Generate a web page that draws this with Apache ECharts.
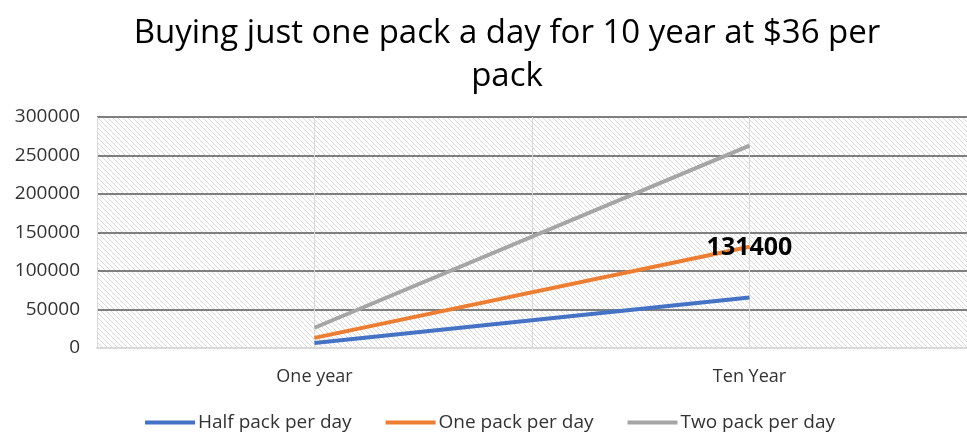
<!DOCTYPE html>
<html><head><meta charset="utf-8">
<script src="https://cdn.jsdelivr.net/npm/echarts@6/dist/echarts.min.js"></script>
<style>html,body{margin:0;padding:0;background:#fff}#c{width:967px;height:434px}</style>
</head><body><div id="c"></div>
<script>
const categories = ['One year', 'Ten Year'];
const halfPack = [6570, 65700];
const onePack = [13140, 131400];
const twoPack = [26280, 262800];
const seriesNames = ['Half pack per day', 'One pack per day', 'Two pack per day'];
const titleText = 'Buying just one pack a day for 10 year at $36 per\npack';

const pc = document.createElement('canvas');
pc.width = 5; pc.height = 5;
const g = pc.getContext('2d');
g.fillStyle = '#fff'; g.fillRect(0,0,5,5);
g.strokeStyle = '#dadada'; g.lineWidth = 1;
g.beginPath();
g.moveTo(-1,-1); g.lineTo(6,6);
g.moveTo(-4,1); g.lineTo(4,9);
g.moveTo(1,-4); g.lineTo(9,4);
g.stroke();

const font = 'Open Sans';
const chart = echarts.init(document.getElementById('c'));
chart.setOption({
  animation: false,
  title: {
    text: titleText, left: 502, textAlign: 'center', top: 7,
    textStyle: {fontFamily: font, fontSize: 33, fontWeight: 'normal', color: '#000', lineHeight: 43}
  },
  legend: {
    bottom: -3, left: 140, itemWidth: 50, itemGap: 34,
    icon: 'rect', itemHeight: 4,
    textStyle: {fontFamily: font, fontSize: 19, color: '#333', padding: [0,0,0,-2]}
  },
  grid: {left: 97, right: -2, top: 117, bottom: 86, show: true, borderWidth: 0,
    backgroundColor: {image: pc, repeat: 'repeat'}},
  xAxis: [{
    type: 'category', data: categories, boundaryGap: true,
    axisLine: {lineStyle: {color: '#d9d9d9', width: 2}},
    axisTick: {show: false},
    axisLabel: {fontFamily: font, fontSize: 18, color: '#333', margin: 20},
    splitLine: {show: true, lineStyle: {color: '#d9d9d9', width: 1}}
  }, {
    type: 'value', min: 0, max: 4, interval: 1, show: true,
    axisLine: {show: false}, axisTick: {show: false}, axisLabel: {show: false},
    splitLine: {show: true, lineStyle: {color: '#d9d9d9', width: 1}}
  }],
  yAxis: {
    type: 'value', min: 0, max: 300000, interval: 50000,
    axisLine: {show: false}, axisTick: {show: false},
    axisLabel: {fontFamily: font, fontSize: 19, color: '#333', margin: 17, formatter: v => String(v)},
    splitLine: {lineStyle: {color: '#7f7f7f', width: 2}}
  },
  series: [
    {name: seriesNames[0], type: 'line', data: halfPack, symbol: 'none', z: 3,
     lineStyle: {color: '#4472C4', width: 4}, itemStyle: {color: '#4472C4'}},
    {name: seriesNames[1], type: 'line', data: onePack, symbol: 'circle', symbolSize: 1, showSymbol: true, z: 4,
     lineStyle: {color: '#ED7D31', width: 4}, itemStyle: {color: '#ED7D31'},
     label: {show: true, position: 'top', offset: [0, 19], fontFamily: font, fontSize: 25, fontWeight: 'bold', color: '#000',
       formatter: p => p.dataIndex === 1 ? String(p.value) : ''}},
    {name: seriesNames[2], type: 'line', data: twoPack, symbol: 'none', z: 2,
     lineStyle: {color: '#A5A5A5', width: 4}, itemStyle: {color: '#A5A5A5'}}
  ]
});
</script></body></html>
